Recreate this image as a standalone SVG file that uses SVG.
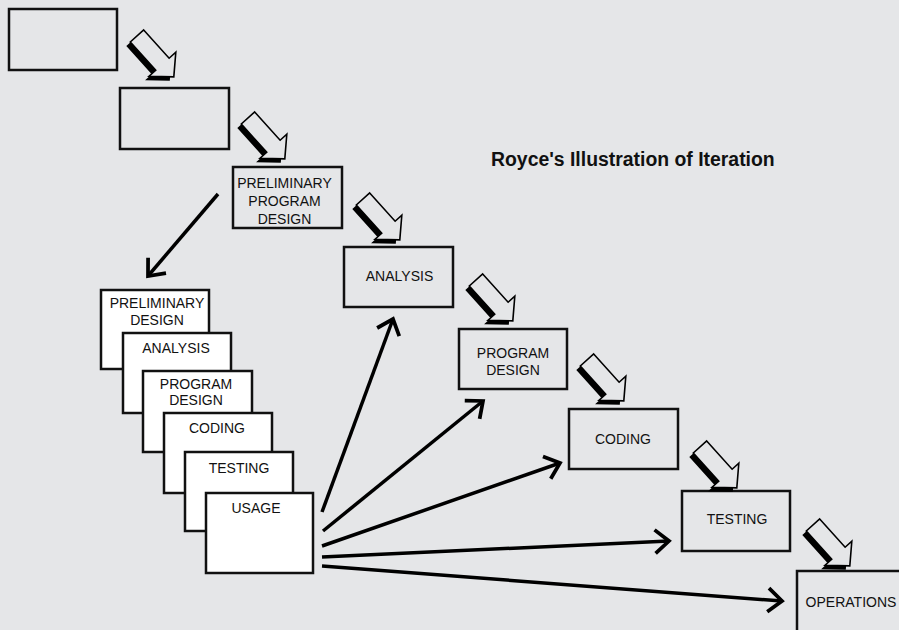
<svg xmlns="http://www.w3.org/2000/svg" width="899" height="630" viewBox="0 0 899 630">
  <style>
    .bg { fill: #e5e6e8; }
    .step rect { fill: #e5e6e8; stroke: #111; stroke-width: 2.5; }
    .card rect { fill: #ffffff; stroke: #111; stroke-width: 2.5; }
    text { font-family: "Liberation Sans", Arial, sans-serif; font-size: 14px; fill: #111; text-anchor: middle; }
    .title { font-size: 19.4px; font-weight: bold; text-anchor: start; }
    .flow line { stroke: #000; stroke-width: 3.5; marker-end: url(#chevron); }
    .block .shadow { fill: #000; }
    .block .body { fill: #e5e6e8; stroke: #000; stroke-width: 1.6; stroke-linejoin: miter; }
  </style>
  <defs>
    <!-- open chevron arrowhead for the feedback lines -->
    <marker id="chevron" markerUnits="userSpaceOnUse" markerWidth="30" markerHeight="30" refX="0" refY="0" viewBox="-16 -14 20 28" orient="auto" overflow="visible">
      <path d="M-13,-11 L0,0 L-13,11" fill="none" stroke="#000" stroke-width="3.5" stroke-linejoin="miter"/>
    </marker>
    <!-- hollow step arrow, tail centred on the origin, pointing down-right -->
    <polygon id="stepArrow" points="6.69,-6.02 32.12,22.22 38.81,16.2 36.8,40.87 12.05,40.28 18.74,34.26 -6.69,6.02"/>
  </defs>

  <rect class="bg" x="0" y="0" width="899" height="630"/>

  <text class="title" x="491" y="166">Royce's Illustration of Iteration</text>

  <!-- waterfall steps -->
  <g id="step-1" class="step"><rect x="9" y="9" width="108" height="61"/></g>
  <g id="step-2" class="step"><rect x="120" y="88" width="109" height="61"/></g>
  <g id="step-preliminary-program-design" class="step">
    <rect x="233" y="167" width="109" height="61"/>
    <text x="284.5" y="188">PRELIMINARY</text>
    <text x="284.5" y="206">PROGRAM</text>
    <text x="284.5" y="224">DESIGN</text>
  </g>
  <g id="step-analysis" class="step">
    <rect x="344" y="247" width="109" height="60"/>
    <text x="399.5" y="281">ANALYSIS</text>
  </g>
  <g id="step-program-design" class="step">
    <rect x="459" y="329" width="108" height="60"/>
    <text x="513" y="358">PROGRAM</text>
    <text x="513" y="375">DESIGN</text>
  </g>
  <g id="step-coding" class="step">
    <rect x="569" y="409" width="109" height="60"/>
    <text x="623" y="444">CODING</text>
  </g>
  <g id="step-testing" class="step">
    <rect x="682" y="491" width="108" height="60"/>
    <text x="737" y="524">TESTING</text>
  </g>
  <g id="step-operations" class="step">
    <rect x="797" y="571" width="112" height="70"/>
    <text x="851" y="607">OPERATIONS</text>
  </g>

  <!-- stacked preliminary design cards -->
  <g id="card-preliminary-design" class="card">
    <rect x="101" y="290" width="108" height="79"/>
    <text x="157" y="308">PRELIMINARY</text>
    <text x="157" y="325">DESIGN</text>
  </g>
  <g id="card-analysis" class="card">
    <rect x="123" y="333" width="108" height="80"/>
    <text x="176" y="353">ANALYSIS</text>
  </g>
  <g id="card-program-design" class="card">
    <rect x="143" y="371" width="109" height="81"/>
    <text x="196" y="389">PROGRAM</text>
    <text x="196" y="405">DESIGN</text>
  </g>
  <g id="card-coding" class="card">
    <rect x="164" y="413" width="108" height="80"/>
    <text x="217" y="433">CODING</text>
  </g>
  <g id="card-testing" class="card">
    <rect x="185" y="452" width="108" height="79"/>
    <text x="239" y="473">TESTING</text>
  </g>
  <g id="card-usage" class="card">
    <rect x="206" y="493" width="107" height="80"/>
    <text x="256" y="513">USAGE</text>
  </g>

  <!-- connectors -->
  <g id="connectors">
    <g class="block">
      <g transform="translate(137,36)"><use href="#stepArrow" class="shadow" transform="translate(-4,4)"/><use href="#stepArrow" class="body"/></g>
      <g transform="translate(248,118)"><use href="#stepArrow" class="shadow" transform="translate(-4,4)"/><use href="#stepArrow" class="body"/></g>
      <g transform="translate(363,199)"><use href="#stepArrow" class="shadow" transform="translate(-4,4)"/><use href="#stepArrow" class="body"/></g>
      <g transform="translate(476,280)"><use href="#stepArrow" class="shadow" transform="translate(-4,4)"/><use href="#stepArrow" class="body"/></g>
      <g transform="translate(587,360)"><use href="#stepArrow" class="shadow" transform="translate(-4,4)"/><use href="#stepArrow" class="body"/></g>
      <g transform="translate(700,447)"><use href="#stepArrow" class="shadow" transform="translate(-4,4)"/><use href="#stepArrow" class="body"/></g>
      <g transform="translate(813,525)"><use href="#stepArrow" class="shadow" transform="translate(-4,4)"/><use href="#stepArrow" class="body"/></g>
    </g>
    <g class="flow">
      <line x1="218" y1="194" x2="148" y2="276"/>
      <line x1="322" y1="512" x2="393" y2="319"/>
      <line x1="323" y1="531" x2="483" y2="401"/>
      <line x1="322" y1="546" x2="560" y2="463"/>
      <line x1="322" y1="557" x2="669" y2="541"/>
      <line x1="322" y1="566" x2="782" y2="601"/>
    </g>
  </g>
</svg>
